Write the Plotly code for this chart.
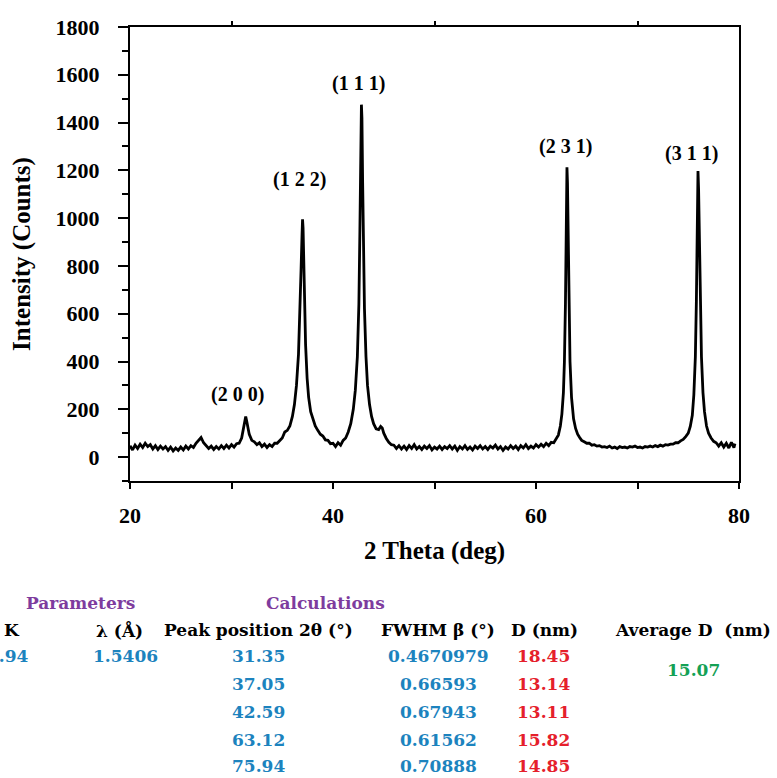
import plotly.graph_objects as go

# ---------------- data ----------------
two_theta = [
    20.0, 20.25, 20.5, 20.75, 21.0, 21.25, 21.5, 21.75, 22.0, 22.25,
    22.5, 22.75, 23.0, 23.25, 23.5, 23.75, 24.0, 24.25, 24.5, 24.75,
    25.0, 25.25, 25.5, 25.75, 26.0, 26.25, 26.5, 26.75, 27.0, 27.25,
    27.5, 27.75, 28.0, 28.25, 28.5, 28.75, 29.0, 29.25, 29.5, 29.75,
    30.0, 30.25, 30.5, 30.75, 31.0, 31.25, 31.4, 31.5, 31.75, 32.0,
    32.25, 32.5, 32.75, 33.0, 33.25, 33.5, 33.75, 34.0, 34.25, 34.5,
    34.75, 35.0, 35.25, 35.5, 35.75, 36.0, 36.2, 36.4, 36.6, 36.75,
    36.85, 36.95, 37.0, 37.05, 37.12, 37.2, 37.3, 37.45, 37.6, 37.8,
    38.0, 38.25, 38.5, 38.75, 39.0, 39.25, 39.5, 39.75, 40.0, 40.25,
    40.5, 40.75, 41.0, 41.25, 41.5, 41.75, 42.0, 42.2, 42.4, 42.55,
    42.65, 42.75, 42.8, 42.85, 42.92, 43.0, 43.1, 43.25, 43.4, 43.6,
    43.8, 44.0, 44.25, 44.5, 44.7, 44.85, 45.0, 45.25, 45.5, 45.75,
    46.0, 46.25, 46.5, 46.75, 47.0, 47.25, 47.5, 47.75, 48.0, 48.25,
    48.5, 48.75, 49.0, 49.25, 49.5, 49.75, 50.0, 50.25, 50.5, 50.75,
    51.0, 51.25, 51.5, 51.75, 52.0, 52.25, 52.5, 52.75, 53.0, 53.25,
    53.5, 53.75, 54.0, 54.25, 54.5, 54.75, 55.0, 55.25, 55.5, 55.75,
    56.0, 56.25, 56.5, 56.75, 57.0, 57.25, 57.5, 57.75, 58.0, 58.25,
    58.5, 58.75, 59.0, 59.25, 59.5, 59.75, 60.0, 60.25, 60.5, 60.75,
    61.0, 61.25, 61.5, 61.75, 62.0, 62.2, 62.4, 62.55, 62.7, 62.8,
    62.9, 62.97, 63.05, 63.1, 63.17, 63.25, 63.35, 63.5, 63.7, 63.9,
    64.1, 64.3, 64.5, 64.75, 65.0, 65.25, 65.5, 65.75, 66.0, 66.25,
    66.5, 66.75, 67.0, 67.25, 67.5, 67.75, 68.0, 68.25, 68.5, 68.75,
    69.0, 69.25, 69.5, 69.75, 70.0, 70.25, 70.5, 70.75, 71.0, 71.25,
    71.5, 71.75, 72.0, 72.25, 72.5, 72.75, 73.0, 73.25, 73.5, 73.75,
    74.0, 74.25, 74.5, 74.75, 75.0, 75.2, 75.4, 75.55, 75.7, 75.8,
    75.88, 75.96, 76.02, 76.1, 76.2, 76.3, 76.45, 76.6, 76.8, 77.0,
    77.25, 77.5, 77.75, 78.0, 78.25, 78.5, 78.75, 79.0, 79.25, 79.5,
    79.6,
]
intensity = [
    48, 30, 50, 36, 54, 40, 58, 44, 52, 34,
    48, 32, 46, 34, 44, 28, 42, 26, 38, 28,
    42, 30, 46, 34, 48, 40, 58, 72, 82, 60,
    50, 36, 46, 32, 44, 34, 48, 36, 50, 38,
    52, 42, 56, 58, 80, 130, 170, 150, 95, 70,
    64, 52, 60, 44, 54, 40, 52, 44, 58, 58,
    70, 80, 105, 112, 130, 170, 220, 300, 430, 600,
    780, 930, 995, 960, 820, 640, 470, 330, 250, 190,
    160, 130, 112, 96, 88, 72, 70, 56, 58, 44,
    60, 50, 70, 80, 105, 140, 200, 280, 420, 640,
    950, 1300, 1475, 1420, 1150, 880, 620, 420, 300, 220,
    170, 140, 118, 115, 128, 122, 100, 78, 62, 52,
    50, 36, 48, 34, 46, 32, 48, 36, 52, 34,
    44, 32, 46, 36, 48, 30, 42, 34, 46, 32,
    44, 36, 48, 34, 46, 28, 44, 34, 48, 32,
    42, 30, 46, 36, 48, 34, 44, 32, 46, 38,
    50, 34, 44, 28, 42, 34, 48, 36, 46, 32,
    48, 38, 52, 36, 46, 38, 52, 42, 54, 44,
    58, 48, 62, 60, 78, 92, 130, 180, 270, 400,
    640, 950, 1213, 1150, 880, 620, 400, 250, 160, 120,
    96, 82, 70, 64, 58, 58, 50, 52, 46, 48,
    42, 44, 40, 46, 38, 42, 36, 44, 40, 42,
    38, 44, 42, 46, 40, 42, 38, 44, 42, 46,
    42, 48, 44, 50, 46, 52, 50, 54, 54, 60,
    60, 68, 74, 86, 100, 128, 175, 260, 420, 650,
    950, 1197, 1120, 860, 600, 420, 270, 190, 130, 100,
    80, 66, 60, 46, 60, 42, 58, 38, 62, 40,
    56,
]

peak_labels = ["(2 0 0)", "(1 2 2)", "(1 1 1)", "(2 3 1)", "(3 1 1)"]
peak_label_x = [30.6, 36.7, 42.5, 62.9, 75.3]
peak_label_y = [262, 1160, 1565, 1298, 1272]

x_ticks = [20, 40, 60, 80]
x_minor_ticks = [30, 50, 70]

# table below the chart
param_header = "Parameters"
calc_header = "Calculations"
col_headers = ["K", "λ (Å)", "Peak position 2θ (°)", "FWHM β (°)", "D (nm)", "Average D  (nm)"]
k_value = "0.94"
wavelength = "1.5406"
peak_positions = ["31.35", "37.05", "42.59", "63.12", "75.94"]
fwhm_values = ["0.4670979", "0.66593", "0.67943", "0.61562", "0.70888"]
d_values = ["18.45", "13.14", "13.11", "15.82", "14.85"]
avg_d = "15.07"

# ---------------- figure ----------------
W, H = 777, 778
L, R, T, B = 130, 38, 27, 297
PW, PH = W - L - R, H - T - B

def px(xp):
    return (xp - L) / PW

def py(yp):
    return (H - B - yp) / PH

serif = "Liberation Serif"
tfont = "DejaVu Serif"
purple = "#7E3C9E"
blue = "#1C83BE"
red = "#E5202B"
green = "#14A155"

fig = go.Figure()
fig.add_trace(go.Scatter(
    x=two_theta, y=intensity, mode="lines",
    line=dict(color="black", width=2.8), showlegend=False, hoverinfo="x+y",
))
# helper trace so the top axis is drawn
fig.add_trace(go.Scatter(x=[20, 80], y=[None, None], xaxis="x2", mode="lines",
                         showlegend=False, hoverinfo="skip"))

ann = []
for t, xv, yv in zip(peak_labels, peak_label_x, peak_label_y):
    ann.append(dict(x=xv, y=yv, xref="x", yref="y", text=t, showarrow=False,
                    font=dict(family=serif, size=20, color="black", weight="bold")))

def tx(text, xp, yp, color, anchor="center", size=17):
    ann.append(dict(x=px(xp), y=py(yp), xref="paper", yref="paper", text=text,
                    showarrow=False, xanchor=anchor, yanchor="middle",
                    font=dict(family=tfont, size=size, color=color, weight="bold")))

tx(param_header, 80, 603, purple)
tx(calc_header, 325, 603, purple)
head_x = [12, 119, 258, 438, 544, 693]
for h, xp in zip(col_headers, head_x):
    tx(h, xp, 630, "black")
row_y = [656, 684, 712, 740, 766]
tx(k_value, 31, row_y[0], blue, anchor="right")
tx(wavelength, 125, row_y[0], blue)
for i in range(5):
    tx(peak_positions[i], 258, row_y[i], blue)
    tx(fwhm_values[i], 438, row_y[i], blue)
    tx(d_values[i], 543, row_y[i], red)
tx(avg_d, 693, 670, green)

fig.update_layout(
    width=W, height=H,
    margin=dict(l=L, r=R, t=T, b=B),
    paper_bgcolor="white", plot_bgcolor="white",
    font=dict(family=serif, color="black"),
    annotations=ann,
    xaxis=dict(
        range=[20, 80], tickvals=x_ticks, ticks="outside", ticklen=6, tickwidth=2,
        tickcolor="black", showline=True, linewidth=2, linecolor="black", mirror=True,
        showgrid=False, zeroline=False,
        minor=dict(tickvals=x_minor_ticks, ticks="outside", ticklen=6, tickwidth=2,
                   tickcolor="black", showgrid=False),
        tickfont=dict(family=serif, size=22, color="black", weight="bold"),
        ticklabelstandoff=8,
        title=dict(text="2 Theta (deg)", font=dict(family=serif, size=25, weight="bold"), standoff=14),
    ),
    xaxis2=dict(
        range=[20, 80], overlaying="x", side="top", tickvals=x_minor_ticks,
        ticks="outside", ticklen=5, tickwidth=2, tickcolor="black",
        showticklabels=False, showline=False, showgrid=False, zeroline=False,
    ),
    yaxis=dict(
        range=[-100, 1800], tickvals=list(range(0, 1801, 200)), ticks="outside",
        ticklen=10, tickwidth=2, tickcolor="black", showline=True, linewidth=2,
        linecolor="black", mirror=True, showgrid=False, zeroline=False,
        minor=dict(dtick=100, tick0=0, ticks="outside", ticklen=6, tickwidth=2,
                   tickcolor="black", showgrid=False),
        tickfont=dict(family=serif, size=22, color="black", weight="bold"),
        ticklabelstandoff=14,
        title=dict(text="Intensity (Counts)", font=dict(family=serif, size=25, weight="bold"), standoff=18),
    ),
)

fig.write_html("out.html", config={"displayModeBar": False},
               post_script="document.body.style.margin='0';")
